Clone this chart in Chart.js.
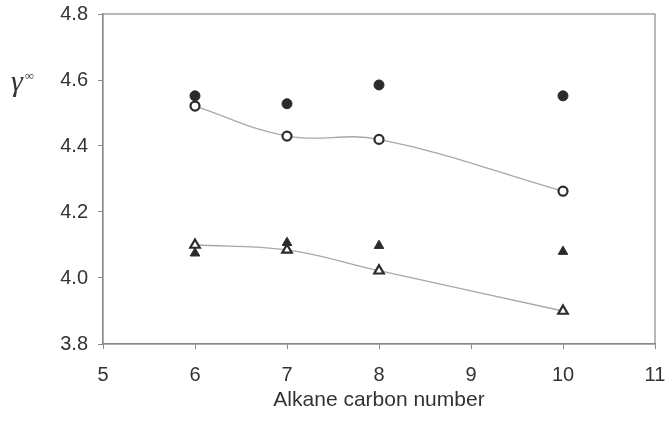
<!DOCTYPE html>
<html>
<head>
<meta charset="utf-8">
<script src="https://cdn.jsdelivr.net/npm/chart.js@4"></script>
<style>
    html, body { margin: 0; padding: 0; background: #fff; }
    #wrap { position: relative; width: 665px; height: 423px; }
    #yTitle {
        position: absolute; left: 11px; top: 64px;
        font-family: "Liberation Serif", serif; font-style: italic;
        font-size: 30px; color: #333;
    }
    #yTitle sup { font-size: 13px; font-style: normal; position: relative; top: 0px; left: 2px; }
</style>
</head>
<body>
<div id="wrap">
    <canvas id="chart" width="665" height="423"></canvas>
    <div id="yTitle">γ<sup>∞</sup></div>
</div>
<script>
// ======================================
// Data
// ======================================
const carbonNumbers = [6, 7, 8, 10];
const filledCircles = [4.552, 4.528, 4.585, 4.552];
const openCircles   = [4.521, 4.430, 4.420, 4.263];
const filledTriangles = [4.075, 4.107, 4.098, 4.080];
const openTriangles   = [4.100, 4.085, 4.022, 3.900];

const xTicks = [5, 6, 7, 8, 9, 10, 11];
const yTicks = [3.8, 4.0, 4.2, 4.4, 4.6, 4.8];

const axisColor = '#8a8a8a';
const lineColor = '#a8a8a8';
const markColor = '#2b2b2b';
const textColor = '#333';

function toPoints(values) {
    return carbonNumbers.map((c, i) => ({ x: c, y: values[i] }));
}

// ======================================
// Box round the plot area
// ======================================
const frame = {
    id: 'frame',
    afterDraw(chart) {
        const a = chart.chartArea;
        const ctx = chart.ctx;
        ctx.save();
        ctx.strokeStyle = axisColor;
        ctx.lineWidth = 1.2;
        ctx.strokeRect(a.left, a.top, a.right - a.left, a.bottom - a.top);
        ctx.restore();
    }
};

// ======================================
// Chart
// ======================================
new Chart(document.getElementById('chart'), {
    type: 'scatter',
    data: {
        datasets: [
            {
                label: 'open circles',
                data: toPoints(openCircles),
                showLine: true,
                tension: 0.4,
                borderColor: lineColor,
                borderWidth: 1.3,
                pointStyle: 'circle',
                pointRadius: 4.5,
                pointBackgroundColor: '#fff',
                pointBorderColor: markColor,
                pointBorderWidth: 2.2
            },
            {
                label: 'open triangles',
                data: toPoints(openTriangles),
                showLine: true,
                tension: 0.4,
                borderColor: lineColor,
                borderWidth: 1.3,
                pointStyle: 'triangle',
                pointRadius: 5.5,
                pointBackgroundColor: '#fff',
                pointBorderColor: markColor,
                pointBorderWidth: 2.2
            },
            {
                label: 'filled circles',
                data: toPoints(filledCircles),
                pointStyle: 'circle',
                pointRadius: 5,
                pointBackgroundColor: markColor,
                pointBorderColor: markColor,
                pointBorderWidth: 1
            },
            {
                label: 'filled triangles',
                data: toPoints(filledTriangles),
                pointStyle: 'triangle',
                pointRadius: 5.5,
                pointBackgroundColor: markColor,
                pointBorderColor: markColor,
                pointBorderWidth: 1
            }
        ]
    },
    options: {
        responsive: false,
        animation: false,
        layout: { padding: { top: 14, right: 10, left: 0, bottom: 0 } },
        plugins: { legend: { display: false }, tooltip: { enabled: false } },
        scales: {
            x: {
                type: 'linear',
                min: xTicks[0],
                max: xTicks[xTicks.length - 1],
                afterBuildTicks: (s) => { s.ticks = xTicks.map(v => ({ value: v })); },
                afterFit: (s) => {
                    s.height = 79;
                    s.paddingLeft = 0;
                    s.paddingRight = 0;
                },
                grid: { drawOnChartArea: false, drawTicks: true, tickLength: 5, color: axisColor },
                border: { display: true, color: axisColor, width: 1.2 },
                ticks: {
                    color: textColor,
                    font: { family: 'Liberation Sans', size: 20 },
                    padding: 14
                },
                title: {
                    display: true,
                    text: 'Alkane carbon number',
                    color: textColor,
                    font: { family: 'Liberation Sans', size: 21 },
                    padding: { top: 0, bottom: 10 }
                }
            },
            y: {
                type: 'linear',
                min: yTicks[0],
                max: yTicks[yTicks.length - 1],
                afterBuildTicks: (s) => { s.ticks = yTicks.map(v => ({ value: v })); },
                afterFit: (s) => {
                    s.width = 103;
                    s.paddingTop = 0;
                    s.paddingBottom = 0;
                },
                grid: { drawOnChartArea: false, drawTicks: true, tickLength: 5, color: axisColor },
                border: { display: true, color: axisColor, width: 1.2 },
                ticks: {
                    color: textColor,
                    font: { family: 'Liberation Sans', size: 20 },
                    padding: 10,
                    callback: (v) => v.toFixed(1)
                }
            }
        }
    },
    plugins: [frame]
});
</script>
</body>
</html>
